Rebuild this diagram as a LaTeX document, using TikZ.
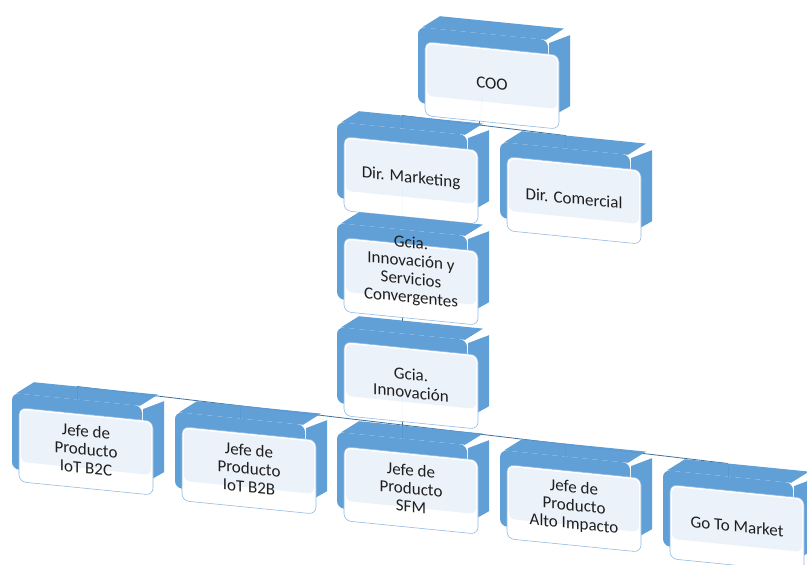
\documentclass[tikz,border=0pt]{standalone}
\usepackage{fontspec}
\setmainfont{Carlito}
\usetikzlibrary{calc, backgrounds}
\definecolor{boxblue}{HTML}{5B9BD5}
\definecolor{panelrim}{HTML}{8DB6E2}
\definecolor{panelsheen}{HTML}{EBF1F9}
\definecolor{inktext}{HTML}{1E1E1E}
\definecolor{connblue}{HTML}{41719C}
\newcommand{\orgfont}{\fontsize{14.5}{15.5}\selectfont}
\tikzset{
  boxface/.style={fill=boxblue},
  panel/.style={fill=white, draw=panelrim, line width=0.5pt, rounded corners=6},
  sheen/.style={fill=panelsheen, rounded corners=5},
  boxtext/.style={transform shape, align=center, font=\orgfont, text=inktext, inner sep=0pt},
  conn/.style={draw=connblue, line width=0.7pt},
}
% [#1] extra text options, #2 name, #3/#4 top-left corner of the front face, #5 label
\newcommand{\orgbox}[5][]{%
  \begin{scope}[shift={(#3,#4)}, yslant=-0.1]
    \begin{scope}[transparency group, opacity=0.96]
      \fill[boxface] (4,0) -- (22,-13) -- (146,-13) -- (128,0) -- cycle;
      \fill[boxface] (131,3) -- (152,-7) -- (152,64) -- (131,78) -- cycle;
      \fill[boxface, rounded corners=6] (0,0) rectangle (130,76);
      \filldraw[panel] (7,14) rectangle (141,88);
      \fill[sheen] (9,16) rectangle (139,68);
    \end{scope}
    \coordinate (#2-t) at (65,-13);
    \coordinate (#2-f) at (65,0);
    \coordinate (#2-b) at (65,60);
    \node[boxtext, #1] (#2) at (74,49) {#5};
  \end{scope}}

\begin{document}
\begin{tikzpicture}[x=0.03cm, y=-0.03cm]
  \useasboundingbox (0,0) rectangle (807,565);
  \clip (0,0) rectangle (807,565);

  % upper levels
  \orgbox{coo}{418}{27}{COO}
  \orgbox{dirmkt}{337}{122}{Dir. Marketing}
  \orgbox{dircom}{500}{142}{Dir. Comercial}
  \orgbox[yshift=7pt]{gcserv}{337}{223}{Gcia.\\Innovación y\\Servicios\\Convergentes}
  \orgbox{gcinnov}{337}{327}{Gcia.\\Innovación}

  % product heads
  \orgbox{iotbc}{12}{393}{Jefe de\\Producto\\IoT B2C}
  \orgbox{iotbb}{175}{412}{Jefe de\\Producto\\IoT B2B}
  \orgbox{sfm}{337}{432}{Jefe de\\Producto\\SFM}
  \orgbox{alto}{500}{450}{Jefe de\\Producto\\Alto Impacto}
  \orgbox{gtm}{663}{470}{Go To Market}

  \begin{scope}[on background layer]
    \draw[conn] (dirmkt-t) -- (dircom-t);
    \draw[conn] (coo-b) -- ($(dirmkt-t)!(coo-b)!(dircom-t)$);
    \draw[conn] (dirmkt-b) -- (gcserv-t);
    \draw[conn] (gcserv-b) -- (gcinnov-t);
    \draw[conn] (gcinnov-b) -- (sfm-t);
    \draw[conn] (iotbc-t) -- (gtm-t);
    \foreach \n in {dirmkt,dircom,iotbc,iotbb,sfm,alto,gtm}
      \draw[conn] (\n-t) -- (\n-f);
  \end{scope}
\end{tikzpicture}
\end{document}
